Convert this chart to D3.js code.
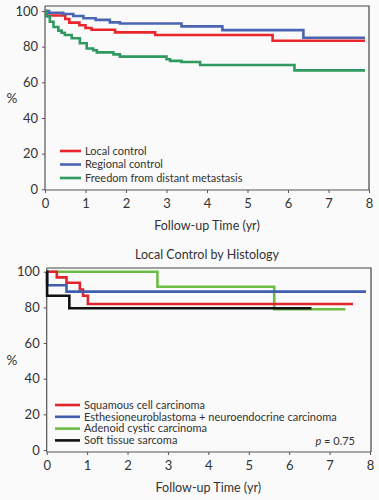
<!DOCTYPE html>
<html>
<head>
<meta charset="utf-8">
<script src="https://cdn.jsdelivr.net/npm/d3@7"></script>
<style>
  body { margin: 0; background: #fafafa; }
  svg { display: block; font-family: Lato, "Open Sans", sans-serif; }
</style>
</head>
<body>
<div id="chart"></div>
<script>
// Tick labels
const xTicks = [0, 1, 2, 3, 4, 5, 6, 7, 8];
const yTicks = [0, 20, 40, 60, 80, 100];

// Top panel: [year, %] step points
const localControl = [[0, 100], [0.03, 97.5], [0.5, 95.5], [0.6, 93.5], [0.85, 92], [1.0, 90.5], [1.15, 89.5], [1.73, 88], [2.72, 86.5], [5.62, 83.3], [7.9, 83.3]];
const regionalControl = [[0, 100], [0.1, 99], [0.45, 98.3], [0.7, 97.2], [0.95, 95.9], [1.25, 95], [1.6, 93.6], [1.85, 93], [3.37, 91.4], [4.38, 89.3], [6.38, 85], [7.9, 85]];
const distantFreedom = [[0, 100], [0.04, 97], [0.12, 94], [0.21, 91], [0.33, 89], [0.41, 87.8], [0.49, 86.5], [0.66, 84.7], [0.86, 81.9], [1.03, 79], [1.19, 78], [1.28, 76.8], [1.69, 75.7], [1.85, 74.4], [3.0, 72.9], [3.09, 72], [3.37, 71.4], [3.83, 69.7], [6.16, 66.7], [7.9, 66.7]];
const topSeries = [
  { name: "Local control", values: localControl, color: "#e8262c" },
  { name: "Regional control", values: regionalControl, color: "#4a66b2" },
  { name: "Freedom from distant metastasis", values: distantFreedom, color: "#2e9a60" }
];

// Bottom panel: local control by histology
const squamous = [[0, 100], [0.25, 96.8], [0.49, 93.8], [0.82, 90], [0.9, 86.5], [1.02, 81.9], [7.58, 81.9]];
const esthesio = [[0, 100], [0.01, 92.4], [0.49, 88.8], [7.9, 88.8]];
const adenoid = [[0, 100], [2.74, 91.6], [5.63, 78.9], [7.39, 78.9]];
const sarcoma = [[0, 100], [0.01, 86.5], [0.56, 79.5], [6.55, 79.5]];
const bottomSeries = [
  { name: "Adenoid cystic carcinoma", values: adenoid, color: "#6cbd45" },
  { name: "Squamous cell carcinoma", values: squamous, color: "#e0262c" },
  { name: "Esthesioneuroblastoma + neuroendocrine carcinoma", values: esthesio, color: "#3f5fae" },
  { name: "Soft tissue sarcoma", values: sarcoma, color: "#111111" }
];
const bottomLegend = ["Squamous cell carcinoma", "Esthesioneuroblastoma + neuroendocrine carcinoma", "Adenoid cystic carcinoma", "Soft tissue sarcoma"];

const width = 379, height = 500;
const svg = d3.select("#chart").append("svg")
  .attr("width", width).attr("height", height);

function panel(cfg) {
  const x = d3.scaleLinear().domain([0, 8]).range([cfg.left, cfg.right]);
  const y = d3.scaleLinear().domain([0, 100]).range([cfg.y0, cfg.y100]);
  const g = svg.append("g");

  // frame top & right
  g.append("path")
    .attr("d", `M${cfg.left},${cfg.top}H${cfg.boxRight}V${cfg.bottom}`)
    .attr("fill", "none").attr("stroke", "#444").attr("stroke-width", 1.2);

  // axes
  g.append("g")
    .attr("transform", `translate(0,${cfg.bottom})`)
    .call(d3.axisBottom(x).tickValues(xTicks).tickSize(3).tickPadding(6).tickSizeOuter(0))
    .call(a => a.select(".domain").attr("d", `M${cfg.left},0H${cfg.boxRight}`).attr("stroke", "#555").attr("stroke-width", 1.2))
    .call(a => a.selectAll("line").attr("stroke", "#555"))
    .call(a => a.selectAll("text").attr("font-size", 13).attr("fill", "#333").attr("font-family", "Lato, sans-serif"));
  g.append("g")
    .attr("transform", `translate(${cfg.left},0)`)
    .call(d3.axisLeft(y).tickValues(yTicks).tickSize(3).tickPadding(4).tickSizeOuter(0))
    .call(a => a.select(".domain").attr("d", `M0,${cfg.top}V${cfg.bottom}`).attr("stroke", "#555").attr("stroke-width", 1.2))
    .call(a => a.selectAll("line").attr("stroke", "#555"))
    .call(a => a.selectAll("text").attr("font-size", 13).attr("fill", "#333").attr("font-family", "Lato, sans-serif"));

  g.append("text").attr("x", 12).attr("y", cfg.pctY).attr("text-anchor", "middle")
    .attr("font-size", 13.5).attr("fill", "#333").text("%");
  g.append("text").attr("x", (cfg.left + cfg.right) / 2).attr("y", cfg.titleY)
    .attr("text-anchor", "middle").attr("font-size", 12.5).attr("fill", "#333").text("Follow-up Time (yr)");

  const line = d3.line().x(d => x(d[0])).y(d => y(d[1])).curve(d3.curveStepAfter);
  for (const s of cfg.series) {
    g.append("path").datum(s.values)
      .attr("fill", "none").attr("stroke", s.color).attr("stroke-width", 2.6)
      .attr("d", line);
  }

  // legend
  const color = d3.scaleOrdinal().domain(cfg.series.map(s => s.name)).range(cfg.series.map(s => s.color));
  const lg = g.append("g");
  cfg.legend.forEach((name, i) => {
    const ly = cfg.legY + i * cfg.legStep;
    lg.append("line").attr("x1", cfg.legX).attr("x2", cfg.legX + cfg.legLen)
      .attr("y1", ly).attr("y2", ly).attr("stroke", color(name)).attr("stroke-width", 2.6);
    lg.append("text").attr("x", cfg.legX + cfg.legLen + 4).attr("y", ly).attr("dy", "0.35em")
      .attr("font-size", 11).attr("fill", "#333").text(name);
  });
  return g;
}

panel({
  left: 45, right: 369, boxRight: 369, top: 6, bottom: 190, y0: 189.3, y100: 11,
  series: topSeries, legend: topSeries.map(s => s.name),
  legX: 60, legLen: 21, legY: 151, legStep: 13.5,
  pctY: 103, titleY: 230
});

panel({
  left: 46.7, right: 370, boxRight: 371, top: 268, bottom: 452, y0: 450, y100: 271.7,
  series: bottomSeries, legend: bottomLegend,
  legX: 55, legLen: 25, legY: 405, legStep: 11.8,
  pctY: 365, titleY: 492
});

svg.append("text").attr("x", 207).attr("y", 259).attr("text-anchor", "middle")
  .attr("font-size", 12.5).attr("fill", "#333").text("Local Control by Histology");

const pText = svg.append("text").attr("x", 355).attr("y", 445).attr("text-anchor", "end")
  .attr("font-size", 11).attr("fill", "#333");
pText.append("tspan").attr("font-style", "italic").text("p");
pText.append("tspan").text(" = 0.75");
</script>
</body>
</html>
